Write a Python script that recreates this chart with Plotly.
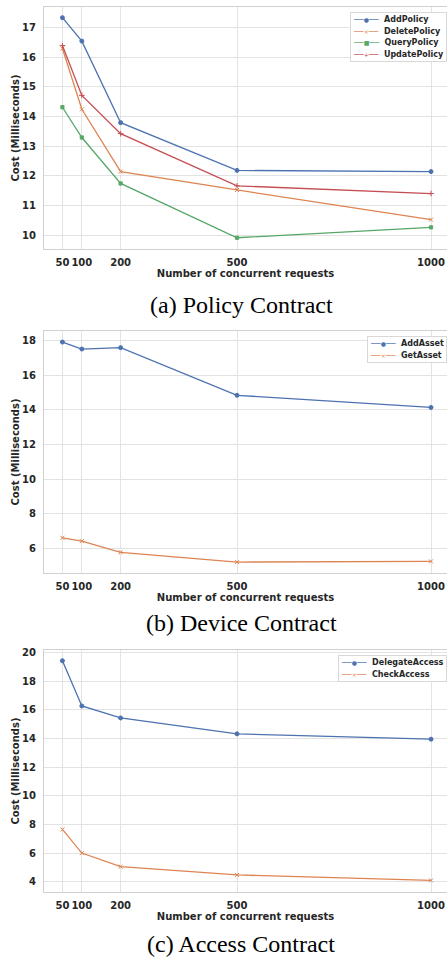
import plotly.graph_objects as go

requests = [50, 100, 200, 500, 1000]

# (a) Policy Contract
add_policy = [17.33, 16.54, 13.79, 12.18, 12.14]
delete_policy = [16.29, 14.24, 12.14, 11.52, 10.52]
query_policy = [14.31, 13.29, 11.74, 9.91, 10.26]
update_policy = [16.39, 14.71, 13.42, 11.66, 11.40]

# (b) Device Contract
add_asset = [17.90, 17.50, 17.58, 14.83, 14.13]
get_asset = [6.61, 6.42, 5.77, 5.21, 5.25]

# (c) Access Contract
delegate_access = [19.44, 16.28, 15.44, 14.33, 13.96]
check_access = [7.65, 6.00, 5.05, 4.47, 4.09]

y_ticks_a = [10, 11, 12, 13, 14, 15, 16, 17]
y_ticks_b = [6, 8, 10, 12, 14, 16, 18]
y_ticks_c = [4, 6, 8, 10, 12, 14, 16, 18, 20]

captions = ["(a) Policy Contract", "(b) Device Contract", "(c) Access Contract"]

BLUE, ORANGE, GREEN, RED = "#4C72B0", "#DD8452", "#55A868", "#C44E52"

W, H = 447, 958
LEFT = 44

def dom(top_px, bot_px):
    return [1 - bot_px / H, 1 - top_px / H]

# (name, values, colour, plot marker, legend glyph)
panels = [
    dict(dom=dom(7, 249), yr=[9.53, 17.69], ticks=y_ticks_a, cap_y=305,
         series=[("AddPolicy", add_policy, BLUE, "circle", "●"),
                 ("DeletePolicy", delete_policy, ORANGE, "x-thin-open", "×"),
                 ("QueryPolicy", query_policy, GREEN, "square", "■"),
                 ("UpdatePolicy", update_policy, RED, "cross-thin-open", "+")]),
    dict(dom=dom(331, 573), yr=[4.58, 18.54], ticks=y_ticks_b, cap_y=623,
         series=[("AddAsset", add_asset, BLUE, "circle", "●"),
                 ("GetAsset", get_asset, ORANGE, "x-thin-open", "×")]),
    dict(dom=dom(650, 892), yr=[3.28, 20.19], ticks=y_ticks_c, cap_y=944,
         series=[("DelegateAccess", delegate_access, BLUE, "circle", "●"),
                 ("CheckAccess", check_access, ORANGE, "x-thin-open", "×")]),
]

px_per_unit = 0.388
x_lo = 2.5
x_hi = x_lo + (W - LEFT) / px_per_unit

fig = go.Figure()
grid = "#e3e3e3"
axis_font = dict(family="DejaVu Sans", size=10, color="#262626", weight="bold")
layout = dict(
    width=W, height=H,
    margin=dict(l=LEFT, r=0, t=0, b=0),
    plot_bgcolor="white", paper_bgcolor="white",
    showlegend=False,
)
annotations = []
for i, p in enumerate(panels):
    n = i + 1
    sx = "" if n == 1 else str(n)
    legend_lines = []
    for name, vals, color, sym, glyph in p["series"]:
        fig.add_trace(go.Scatter(
            x=requests, y=vals, name=name, mode="lines+markers",
            line=dict(color=color, width=1.3),
            marker=dict(symbol=sym, size=4 if sym != "square" else 3.2, color=color,
                        line=dict(color=color, width=1)),
            xaxis="x" + sx, yaxis="y" + sx,
        ))
        legend_lines.append(
            f'<span style="color:{color};font-size:8px;font-weight:normal">'
            f'──</span><span style="color:{color};font-size:6px;font-weight:normal">{glyph}</span>'
            f'<span style="color:{color};font-size:8px;font-weight:normal">──</span>'
            f'<span style="font-size:8px">  {name}</span>'
        )
    layout["xaxis" + sx] = dict(
        domain=[0, 1], anchor="y" + sx, range=[x_lo, x_hi],
        tickmode="array", tickvals=requests, ticktext=[str(r) for r in requests],
        tickangle=0,
        tickfont=axis_font, showgrid=True, gridcolor=grid, gridwidth=1.4,
        showline=True, linecolor="#d0d0d0", linewidth=1.2, mirror=True,
        zeroline=False, automargin=False, ticks="", ticklabelstandoff=4,
        title=dict(text="Number of concurrent requests", font=axis_font, standoff=1),
    )
    layout["yaxis" + sx] = dict(
        domain=p["dom"], anchor="x" + sx, range=p["yr"],
        tickmode="array", tickvals=p["ticks"],
        tickfont=axis_font, showgrid=True, gridcolor=grid, gridwidth=1.4,
        showline=True, linecolor="#d0d0d0", linewidth=1.2, mirror=True,
        zeroline=False, automargin=False, ticks="", ticklabelstandoff=5,
        title=dict(text="Cost (Milliseconds)", font=axis_font, standoff=0),
    )
    annotations.append(dict(
        text="<br>".join(legend_lines), xref="paper", yref="paper",
        x=1, xanchor="right", y=p["dom"][1] - 5 / H, yanchor="top",
        align="left", showarrow=False,
        bgcolor="white", bordercolor="#d8d8d8", borderwidth=1, borderpad=2,
        font=dict(family="DejaVu Sans", size=9, color="#262626", weight="bold"),
    ))
    annotations.append(dict(
        text=captions[i], xref="paper", yref="paper",
        x=(241 - LEFT) / (W - LEFT), y=1 - p["cap_y"] / H,
        xanchor="center", yanchor="middle", showarrow=False,
        font=dict(family="Liberation Serif", size=24, color="black"),
    ))
layout["annotations"] = annotations
fig.update_layout(**layout)
fig.write_html("out.html", config={"displayModeBar": False},
               post_script="document.body.style.margin='0';document.body.style.overflow='hidden';")
